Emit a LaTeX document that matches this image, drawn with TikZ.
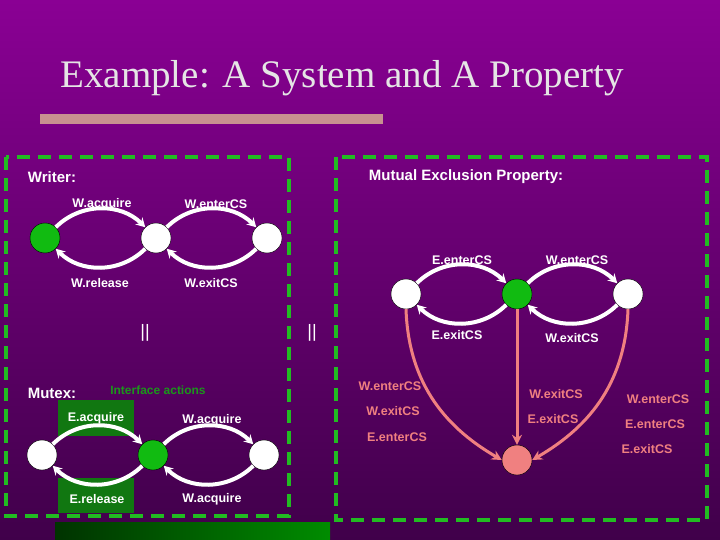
\documentclass[tikz,border=0pt]{standalone}
\usepackage{fontspec}
\setmainfont{Liberation Serif}
\setsansfont{Liberation Sans}
\usetikzlibrary{arrows.meta}
\definecolor{bgtop}{HTML}{8A0094}
\definecolor{bgbot}{HTML}{40004A}
\definecolor{gdash}{HTML}{22BB22}
\definecolor{gnode}{HTML}{11BB11}
\definecolor{pinkc}{HTML}{F08080}
\definecolor{barc}{HTML}{C89090}
\definecolor{gbox}{HTML}{117711}
\begin{document}
\begin{tikzpicture}[x=1pt,y=-1pt,
  st/.style={circle,draw=black,fill=white,minimum size=30pt,inner sep=0pt},
  gst/.style={st,fill=gnode},
  pst/.style={st,fill=pinkc},
  lbl/.style={font=\sffamily\bfseries\fontsize{12.5}{14}\selectfont,text=white},
  plbl/.style={font=\sffamily\bfseries\fontsize{12.5}{14}\selectfont,text=pinkc},
  hd/.style={font=\sffamily\bfseries\fontsize{15}{17}\selectfont,text=white},
  arc/.style={draw=white,line width=4pt,-{Stealth[length=9pt,width=10pt]}},
  parc/.style={draw=pinkc,line width=3pt,-{Stealth[length=10pt,width=10pt]}},
  dbox/.style={draw=gdash,line width=3.5pt,dash pattern=on 13pt off 8pt}]
\useasboundingbox (0,0) rectangle (720,540);
\shade[top color=bgtop,bottom color=bgbot] (0,0) rectangle (720,540);
\node (title)[font=\fontsize{39}{46}\selectfont,text=white!80!gray] at (342,78) {Example: A System and A Property};
\fill[barc] (40,114) rectangle (383,124);
\shade[left color=green!20!black,right color=green!55!black] (55,522) rectangle (330,540);
\draw[dbox] (6,157) rectangle (289,516);
\draw[dbox] (336,157) rectangle (707,520);
% Writer
\node[hd] at (52,177) {Writer:};
\node[gst] (w1) at (45,238) {};
\node[st] (w2) at (156,238) {};
\node[st] (w3) at (267,238) {};
\draw[arc] (w1) to[out=45,in=135] (w2);
\draw[arc] (w2) to[out=-135,in=-45] (w1);
\draw[arc] (w2) to[out=45,in=135] (w3);
\draw[arc] (w3) to[out=-135,in=-45] (w2);
\node[lbl] at (102,204) {W.acquire};
\node[lbl] at (216,204) {W.enterCS};
\node[lbl] at (100,283) {W.release};
\node[lbl] at (211,283) {W.exitCS};
\node[font=\sffamily\fontsize{18}{20}\selectfont,text=white] at (145,333) {||};
\node[font=\sffamily\fontsize{18}{20}\selectfont,text=white] at (312,333) {||};
% Mutex
\node[hd] at (52,393) {Mutex:};
\node[font=\sffamily\bfseries\fontsize{12}{14}\selectfont,text=gdash!80!black] at (158,390) {Interface actions};
\fill[gbox] (58,400) rectangle (134,436);
\fill[gbox] (58,478) rectangle (134,513);
\node[st] (m1) at (42,455) {};
\node[gst] (m2) at (153,455) {};
\node[st] (m3) at (264,455) {};
\draw[arc] (m1) to[out=45,in=135] (m2);
\draw[arc] (m2) to[out=-135,in=-45] (m1);
\draw[arc] (m2) to[out=45,in=135] (m3);
\draw[arc] (m3) to[out=-135,in=-45] (m2);
\node[lbl] at (96,418) {E.acquire};
\node[lbl] at (212,420) {W.acquire};
\node[lbl] at (97,499) {E.release};
\node[lbl] at (212,499) {W.acquire};
% Property
\node[hd] at (466,177) {Mutual Exclusion Property:};
\node[st] (p1) at (406,294) {};
\node[gst] (p2) at (517,294) {};
\node[st] (p3) at (628,294) {};
\node[pst] (p4) at (517,460) {};
\draw[arc] (p1) to[out=45,in=135] (p2);
\draw[arc] (p2) to[out=-135,in=-45] (p1);
\draw[arc] (p2) to[out=45,in=135] (p3);
\draw[arc] (p3) to[out=-135,in=-45] (p2);
\node[lbl] at (462,260) {E.enterCS};
\node[lbl] at (577,260) {W.enterCS};
\node[lbl] at (457,335) {E.exitCS};
\node[lbl] at (572,338) {W.exitCS};
\draw[parc] (p1.south) to[out=-88,in=150] (p4.west);
\draw[parc] (p2.south) -- (p4.north);
\draw[parc] (p3.south) to[out=-92,in=30] (p4.east);
\node[plbl] at (390,386) {W.enterCS};
\node[plbl] at (393,411) {W.exitCS};
\node[plbl] at (397,437) {E.enterCS};
\node[plbl] at (556,394) {W.exitCS};
\node[plbl] at (553,419) {E.exitCS};
\node[plbl] at (658,399) {W.enterCS};
\node[plbl] at (655,424) {E.enterCS};
\node[plbl] at (647,449) {E.exitCS};
\end{tikzpicture}
\end{document}
